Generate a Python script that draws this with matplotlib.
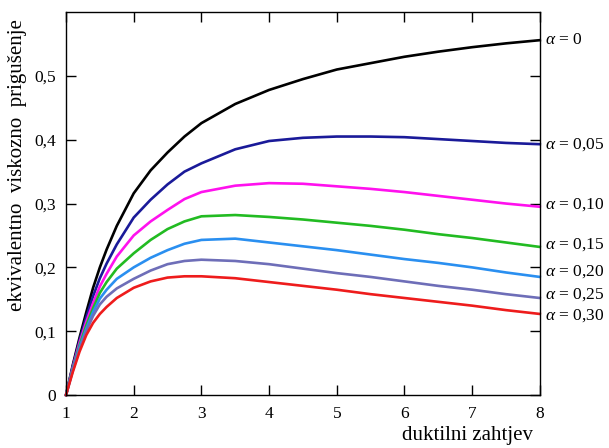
import numpy as np
import matplotlib
matplotlib.use('Agg')
import matplotlib.pyplot as plt

plt.rcParams['font.family'] = ['Liberation Serif', 'DejaVu Serif']
plt.rcParams['mathtext.fontset'] = 'custom'
plt.rcParams['mathtext.rm'] = 'Liberation Serif'
plt.rcParams['mathtext.it'] = 'Liberation Serif:italic'

# ductility demand (x) and equivalent viscous damping for each alpha
ductility = [1, 1.1, 1.2, 1.3, 1.4, 1.5, 1.6, 1.75, 2, 2.25, 2.5, 2.75, 3,
             3.5, 4, 4.5, 5, 5.5, 6, 6.5, 7, 7.5, 8]

alpha_labels = ['0', '0,05', '0,10', '0,15', '0,20', '0,25', '0,30']
line_colors = ['#000000', '#1a1a99', '#ff11ee', '#22bb22', '#2a8ff0', '#6e6eb8', '#ee1c1c']
# small vertical nudges (points) so the end labels don't collide
label_nudge = [0, 0, 1.5, 1.5, 3.5, 2.5, -1.5]

damping_a000 = [0, 0.047, 0.09, 0.13, 0.168, 0.2, 0.228, 0.265, 0.316, 0.352, 0.38, 0.405, 0.426,
                0.456, 0.478, 0.495, 0.51, 0.52, 0.53, 0.538, 0.545, 0.551, 0.556]
damping_a005 = [0, 0.045, 0.086, 0.122, 0.155, 0.183, 0.206, 0.236, 0.278, 0.306, 0.33, 0.35, 0.363,
                0.385, 0.398, 0.403, 0.405, 0.405, 0.404, 0.401, 0.398, 0.395, 0.393]
damping_a010 = [0, 0.043, 0.082, 0.115, 0.144, 0.17, 0.19, 0.217, 0.25, 0.272, 0.29, 0.307, 0.318,
                0.328, 0.332, 0.331, 0.327, 0.323, 0.318, 0.312, 0.306, 0.300, 0.295]
damping_a015 = [0, 0.041, 0.078, 0.109, 0.136, 0.16, 0.177, 0.198, 0.222, 0.243, 0.26, 0.272, 0.28,
                0.282, 0.279, 0.275, 0.270, 0.265, 0.259, 0.252, 0.246, 0.239, 0.232]
damping_a020 = [0, 0.04, 0.075, 0.104, 0.13, 0.151, 0.165, 0.182, 0.2, 0.215, 0.227, 0.237, 0.243,
                0.245, 0.239, 0.233, 0.227, 0.220, 0.213, 0.207, 0.200, 0.192, 0.185]
damping_a025 = [0, 0.038, 0.072, 0.1, 0.124, 0.142, 0.154, 0.167, 0.182, 0.195, 0.205, 0.21, 0.212,
                0.21, 0.205, 0.198, 0.191, 0.185, 0.178, 0.171, 0.165, 0.158, 0.152]
damping_a030 = [0, 0.036, 0.068, 0.094, 0.113, 0.127, 0.138, 0.152, 0.168, 0.178, 0.184, 0.186, 0.186,
                0.183, 0.177, 0.171, 0.165, 0.158, 0.152, 0.146, 0.140, 0.133, 0.127]

damping = [damping_a000, damping_a005, damping_a010, damping_a015,
           damping_a020, damping_a025, damping_a030]

fig = plt.figure(figsize=(6.09, 4.48), dpi=100)
ax = fig.add_axes([0.1084, 0.1183, 0.778, 0.8547])

for vals, col, lab, dy in zip(damping, line_colors, alpha_labels, label_nudge):
    ax.plot(ductility, vals, color=col, lw=1.9, clip_on=False, solid_joinstyle='round')
    ax.annotate(r'$\alpha$ = ' + lab, xy=(ductility[-1], vals[-1]), xytext=(3.5, dy),
                textcoords='offset points', va='center', ha='left', fontsize=12.5)

ax.set_xlim(1, 8)
ax.set_ylim(0, 0.6)
ax.set_xticks([1, 2, 3, 4, 5, 6, 7, 8])
ax.set_yticks([0, 0.1, 0.2, 0.3, 0.4, 0.5])
ax.set_yticklabels(['0', '0,1', '0,2', '0,3', '0,4', '0,5'])
ax.tick_params(direction='in', top=True, right=True, length=7, width=1, labelsize=12.5)
ax.tick_params(axis='x', pad=8)
ax.tick_params(axis='y', pad=7)
for s in ax.spines.values():
    s.set_linewidth(1.0)

ax.set_ylabel('ekvivalentno  viskozno  prigušenje', fontsize=15)
ax.yaxis.set_label_coords(-0.082, 0.6)
ax.set_xlabel('duktilni zahtjev', fontsize=15)
ax.xaxis.set_label_coords(0.985, -0.082)
ax.xaxis.label.set_horizontalalignment('right')

fig.savefig('out.png', dpi=100)
